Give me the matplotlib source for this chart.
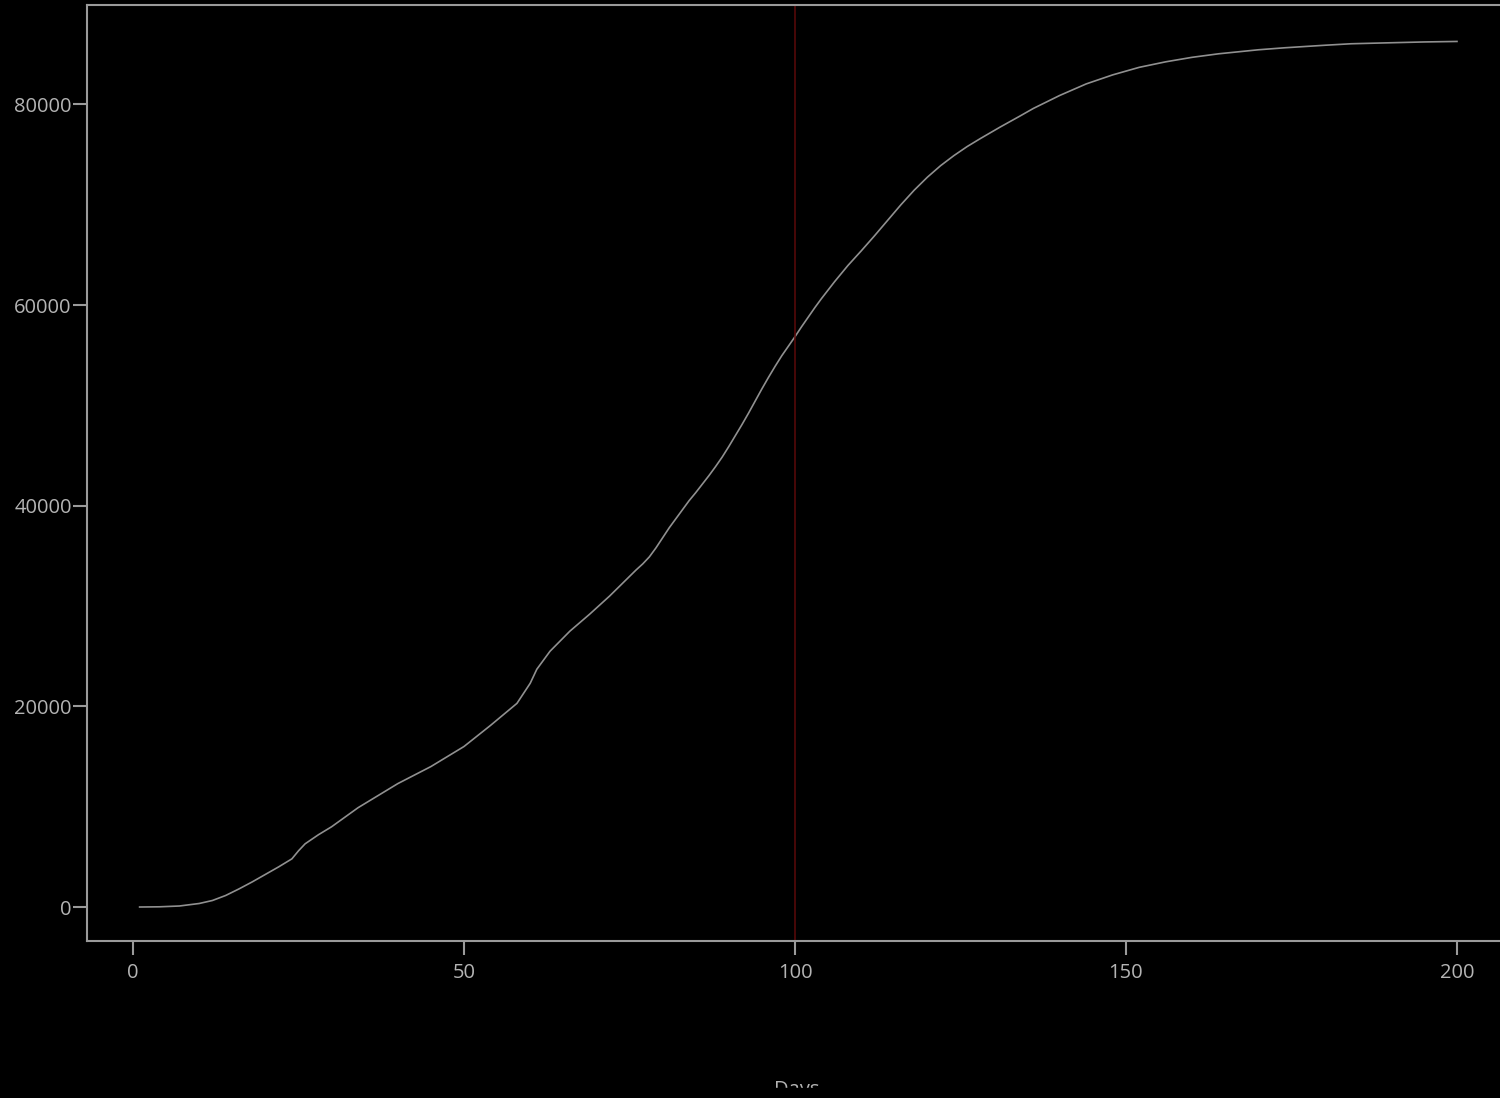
import numpy as np
import matplotlib
matplotlib.use('Agg')
from matplotlib import pyplot as plt
from matplotlib.patches import Rectangle

# cumulative count
days = [1, 4, 7, 10, 12, 14, 16, 18, 20, 22, 24, 25, 26, 28, 30, 34, 40, 45,
        50, 54, 58, 60, 61, 63, 66, 69, 72, 74, 76, 77, 78, 79, 80, 81, 84,
        85, 86, 87, 88, 89, 90, 91, 92, 93, 94, 95, 96, 97, 98, 99, 100, 101,
        102, 103, 104, 105, 106, 107, 108, 110, 112, 114, 116, 118, 120, 122,
        124, 126, 128, 131, 134, 136, 140, 144, 148, 152, 156, 160, 164, 170,
        174, 180, 184, 190, 195, 200]
total = [0, 20, 100, 350, 650, 1150, 1800, 2500, 3250, 4000, 4800, 5600, 6300,
         7200, 8000, 9900, 12300, 14000, 16000, 18100, 20300, 22300, 23700,
         25500, 27500, 29200, 31000, 32300, 33600, 34200, 34900, 35800, 36800,
         37800, 40500, 41300, 42150, 43000, 43900, 44850, 45900, 47000, 48100,
         49250, 50450, 51650, 52800, 53900, 54950, 55900, 56850, 57850, 58800,
         59750, 60650, 61500, 62350, 63150, 63950, 65400, 66900, 68450, 70000,
         71450, 72750, 73900, 74900, 75800, 76600, 77750, 78850, 79600, 80900,
         82050, 82950, 83700, 84250, 84700, 85050, 85450, 85650, 85900, 86050,
         86150, 86230, 86280]
marker_day = 100
xticks = [0, 50, 100, 150, 200]
yticks = [0, 20000, 40000, 60000, 80000]

plt.rcParams['font.family'] = ['Open Sans', 'DejaVu Sans']

fig = plt.figure(figsize=(15, 10.98), dpi=100, facecolor='black')
ax = fig.add_axes([0.058, 0.143, 0.942, 0.852])
ax.set_facecolor('black')

ax.plot(days, total, color='#909090', lw=1.2)
ax.axvline(marker_day, color='#5c0a0a', lw=1.1)

ax.set_xlim(-6.95, 206.5)
ax.set_ylim(-3387, 89865)
ax.set_xticks(xticks)
ax.set_yticks(yticks)

for s in ['left', 'bottom', 'top']:
    ax.spines[s].set_color('#9a9a9a')
    ax.spines[s].set_linewidth(1.5)
ax.spines['right'].set_visible(False)

ax.tick_params(axis='both', colors='#9a9a9a', labelcolor='#b4b4b4',
               labelsize=14.5, width=1.5, length=10)
ax.tick_params(axis='y', pad=1)
ax.tick_params(axis='x', pad=6)

fig.text(0.531, 0.0027, 'Days', ha='center', va='baseline',
         color='#b4b4b4', fontsize=14.5)
# the reference image is cut off just under the top of the x label
fig.patches.append(Rectangle((0, 0), 1, 10 / 1098, color='black',
                             transform=fig.transFigure, zorder=10))

plt.savefig('out.png', dpi=100, facecolor='black')
